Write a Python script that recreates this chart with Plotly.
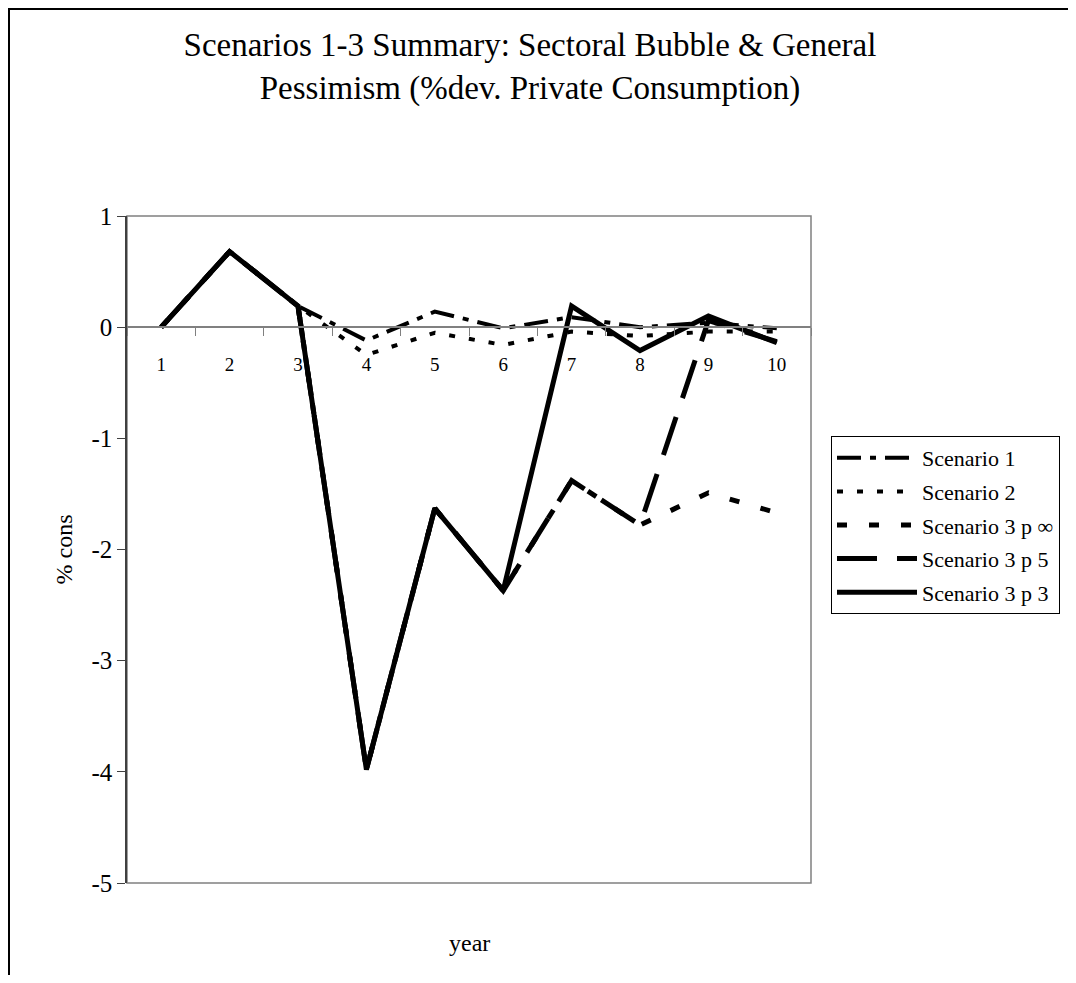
import plotly.graph_objects as go

# ---- data ----
years = ["1", "2", "3", "4", "5", "6", "7", "8", "9", "10"]
scenario_1 = [0.0, 0.68, 0.19, -0.12, 0.14, -0.01, 0.09, 0.00, 0.04, -0.01]
scenario_2 = [0.0, 0.68, 0.19, -0.25, -0.05, -0.16, -0.04, -0.08, -0.04, -0.04]
scenario_3_p_inf = [0.0, 0.68, 0.19, -3.98, -1.63, -2.37, -1.38, -1.78, -1.49, -1.67]
scenario_3_p_5 = [0.0, 0.68, 0.19, -3.98, -1.63, -2.37, -1.38, -1.78, 0.06, -0.13]
scenario_3_p_3 = [0.0, 0.68, 0.19, -3.98, -1.63, -2.37, 0.19, -0.21, 0.10, -0.14]

series_names = ["Scenario 1", "Scenario 2", "Scenario 3 p \u221e", "Scenario 3 p 5", "Scenario 3 p 3"]
series_values = [scenario_1, scenario_2, scenario_3_p_inf, scenario_3_p_5, scenario_3_p_3]

y_tick_values = [1, 0, -1, -2, -3, -4, -5]
y_tick_labels = ["1", "0", "-1", "-2", "-3", "-4", "-5"]

title_text = "Scenarios 1-3 Summary: Sectoral Bubble & General<br>Pessimism (%dev. Private Consumption)"

# ---- styles ----
line_styles = [
    dict(dash="24px,9px,6px,9px", width=4),
    dict(dash="6px,14px", width=4),
    dict(dash="10px,22px", width=5),
    dict(dash="40px,20px", width=5),
    dict(dash="solid", width=5),
]

FONT = "Liberation Serif, Times New Roman, serif"
W, H = 1060, 967
L, R, T, B = 119, 803, 208, 875
pw, ph = R - L, B - T


def px_x(p):
    return (p - L) / pw


def px_y(p):
    return (B - p) / ph


fig = go.Figure()
for name, vals, st in zip(series_names, series_values, line_styles):
    fig.add_trace(go.Scatter(
        x=years, y=vals, mode="lines", name=name, legendgroup=name,
        line=dict(color="black", width=st["width"], dash=st["dash"]),
    ))

fig.update_layout(
    width=W, height=H,
    margin=dict(l=L, r=W - R, t=T, b=H - B, autoexpand=False),
    paper_bgcolor="white", plot_bgcolor="white",
    font=dict(family=FONT, color="black"),
    title=dict(text=title_text, x=522 / W, xref="container", xanchor="center",
               y=1 - 48 / H, yanchor="middle",
               font=dict(family=FONT, size=33, color="black")),
    showlegend=True,
    legend=dict(x=px_x(823), y=px_y(428), xanchor="left", yanchor="top",
                bordercolor="black", borderwidth=1, bgcolor="white",
                font=dict(family=FONT, size=22, color="black"),
                traceorder="grouped", tracegroupgap=2, itemwidth=80),
    xaxis=dict(type="category", categoryorder="array", categoryarray=years,
               range=[-0.5, 9.5], anchor="free", position=5 / 6,
               showline=True, linecolor="#808080", linewidth=1.5,
               ticks="outside", tickson="boundaries", ticklen=8, tickcolor="#808080",
               ticklabelstandoff=20,
               showgrid=False, zeroline=False, automargin=False,
               tickfont=dict(family=FONT, size=19, color="black")),
    yaxis=dict(range=[-5, 1], tickvals=y_tick_values, ticktext=y_tick_labels,
               showline=True, linecolor="#404040", linewidth=1.5,
               ticks="outside", ticklen=8, tickcolor="#404040",
               showgrid=False, zeroline=False, automargin=False,
               tickfont=dict(family=FONT, size=25, color="black"),
               title=dict(text="% cons", standoff=12,
                          font=dict(family=FONT, size=24, color="black"))),
    shapes=[
        dict(type="rect", xref="paper", yref="paper", x0=0, x1=1, y0=0, y1=1,
             line=dict(color="#808080", width=1.5), layer="below"),
        dict(type="rect", xref="paper", yref="paper",
             x0=px_x(1), x1=px_x(W + 20), y0=px_y(H + 20), y1=px_y(1),
             line=dict(color="black", width=2), layer="above"),
    ],
    annotations=[
        dict(text="year", xref="paper", yref="paper", x=0.5, y=px_y(935),
             showarrow=False, xanchor="center", yanchor="middle",
             font=dict(family=FONT, size=24, color="black")),
    ],
)

fig.write_html("out.html")
